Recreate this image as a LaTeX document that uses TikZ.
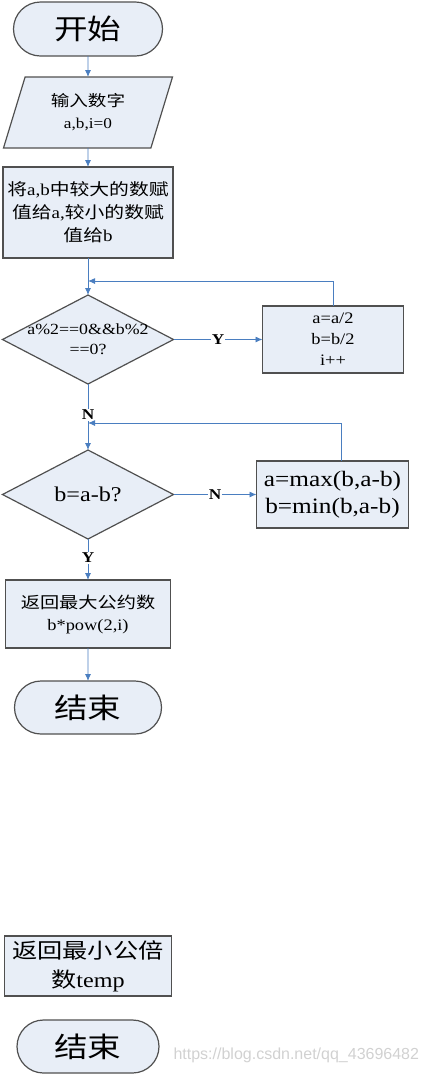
\documentclass[tikz,border=0pt]{standalone}
\usepackage{fontspec}
\setmainfont{Liberation Serif}[FakeStretch=1.15]
\newfontfamily\cjk{Noto Sans CJK SC}[FakeStretch=1.2]
\newfontfamily\wmfont{Liberation Sans}
\usepackage{xcolor}
\usepackage{tikz}
\usetikzlibrary{shapes, arrows, arrows.meta, positioning}
\definecolor{boxfill}{HTML}{E8EEF7}
\definecolor{boxline}{HTML}{505050}
\definecolor{flowblue}{HTML}{4A7EC0}
\tikzset{
  terminalnode/.style={draw=boxline, line width=1.2pt, rounded rectangle, inner sep=0pt, outer sep=0pt, minimum width=147pt, minimum height=53pt, align=center, fill=boxfill, font=\fontsize{28}{30}\selectfont},
  inputnode/.style={draw=boxline, line width=1.2pt, trapezium, trapezium left angle=60, trapezium right angle=120, trapezium stretches body, inner sep=0pt, outer sep=0pt, minimum width=169pt, minimum height=71pt, align=center, fill=boxfill, font=\fontsize{15}{22}\selectfont},
  processnode/.style={draw=boxline, line width=1.2pt, rectangle, inner sep=0pt, outer sep=0pt, align=center, fill=boxfill},
  decisionnode/.style={draw=boxline, line width=1.2pt, diamond, aspect=1.9, inner sep=0pt, outer sep=0pt, minimum width=171pt, minimum height=89pt, align=center, fill=boxfill},
  arrow/.style={-{Latex[length=7pt, width=6pt]}, flowblue, line width=0.9pt},
  answer/.style={fill=white, text=black, inner sep=1pt, font=\fontsize{15}{15}\selectfont\bfseries}
}
\begin{document}
\begin{tikzpicture}[x=1pt, y=1pt]
\useasboundingbox (0,0) rectangle (426,-1077);

% Nodes
\node[terminalnode, minimum width=149pt, minimum height=54pt] (start) at (88,-29) {{\cjk 开始}};
\node[inputnode, below=21pt of start] (input) {{\cjk\fontsize{15.5}{22}\selectfont 输入数字}\\a,b,i=0};
\node[processnode, below=19pt of input, minimum width=170pt, minimum height=91pt, font=\fontsize{16.5}{23}\selectfont] (swap) {{\cjk 将}a,b{\cjk 中较大的数赋}\\{\cjk 值给}a,{\cjk 较小的数赋}\\{\cjk 值给}b};
\node[decisionnode, below=37pt of swap, inner xsep=-35pt, font=\fontsize{15.5}{20}\selectfont] (even) {a\%2==0\&\&b\%2\\==0?};
\node[processnode, right=89pt of even, minimum width=141pt, minimum height=67pt, font=\fontsize{16}{21}\selectfont] (halve) {a=a/2\\b=b/2\\i++};
\node[decisionnode, below=66pt of even, font=\fontsize{21}{24}\selectfont] (equal) {b=a-b?};
\node[processnode, right=83pt of equal, minimum width=152pt, minimum height=67pt, font=\fontsize{22}{27}\selectfont] (reduce) {a=max(b,a-b)\\b=min(b,a-b)};
\node[processnode, below=41pt of equal, minimum width=165pt, minimum height=68pt, font=\fontsize{16}{22}\selectfont] (gcd) {{\cjk 返回最大公约数}\\b*pow(2,i)};
\node[terminalnode, below=33pt of gcd] (stop) {{\cjk 结束}};
\node[processnode, below=202pt of stop, minimum width=167pt, minimum height=60pt, font=\fontsize{21}{29}\selectfont] (lcm) {{\cjk 返回最小公倍}\\{\cjk 数}temp};
\node[terminalnode, below=24pt of lcm, minimum width=142pt] (stoplcm) {{\cjk 结束}};
\node[text=black!18, font=\wmfont\fontsize{16}{16}\selectfont, anchor=west] (mark) at (170,-1055) {https://blog.csdn.net/qq\_43696482};

% Joins
\coordinate[below=23pt of swap] (j1);
\coordinate[below=39pt of even] (j2);

% Edges
\draw[arrow] (start) -- (input);
\draw[arrow] (input) -- (swap);
\draw[arrow] (swap) -- (even);
\draw[arrow] (even) -- node[answer] {Y} (halve);
\draw[arrow] (halve.north) |- (j1);
\draw[arrow] (even) -- node[answer, pos=0.47] {N} (equal);
\draw[arrow] (equal) -- node[answer] {N} (reduce);
\draw[arrow] ([xshift=9pt]reduce.north) |- (j2);
\draw[arrow] (equal) -- node[answer, pos=0.46] {Y} (gcd);
\draw[arrow] (gcd) -- (stop);

\end{tikzpicture}
\end{document}
